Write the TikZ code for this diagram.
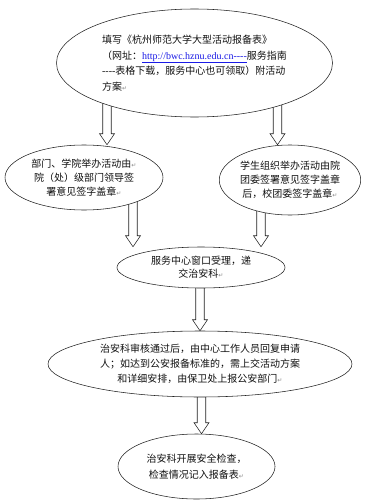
\documentclass[tikz,border=0pt]{standalone}
\usepackage{fontspec}
\newfontfamily\cjk{Noto Sans CJK SC}
\newfontfamily\latin{Liberation Serif}
\newfontfamily\markfont{DejaVu Sans}
\usetikzlibrary{
  shapes.geometric,
  calc,
  backgrounds,
}
\definecolor{ink}{HTML}{111111}
\definecolor{outline}{HTML}{222222}
\definecolor{link}{HTML}{1A1AE6}
\definecolor{retgray}{HTML}{8A8A8A}
\newcommand{\retmark}{{\color{retgray}\markfont\fontsize{6}{6}\selectfont ↵}}
\tikzset{
  every node/.style={
    font=\cjk\fontsize{10}{14}\selectfont,
    text=ink,
    align=center,
    inner sep=0pt,
  },
  bubble/.style={
    ellipse,
    draw=outline, line width=0.55pt,
    fill=white,
  },
  hollow/.style={
    draw=outline, fill=white, line width=0.55pt,
    to path={
      let \p1=(\tikztostart), \p2=(\tikztotarget) in
      (\x1-4.25pt,\y1) -- (\x1-4.25pt,\y2+11pt) -- (\x1-7.5pt,\y2+11pt)
      -- (\x1,\y2) -- (\x1+7.5pt,\y2+11pt) -- (\x1+4.25pt,\y2+11pt)
      -- (\x1+4.25pt,\y1) -- cycle
    },
  },
}

\begin{document}
\begin{tikzpicture}[x=1pt, y=-1pt]

% ============================================
% Page of 386 x 500 (pt), y running down from the top edge
% ============================================
\useasboundingbox (0,0) rectangle (386,500);

% ----- Row 1: application form -----
\node[bubble, minimum width=276pt, minimum height=108pt, align=left,
      font=\cjk\fontsize{10}{15.5}\selectfont] (form) at (194.5,63) {%
  填写《杭州师范大学大型活动报备表》\\
  （网址：{\color{link}\latin\underline{http://bwc.hznu.edu.cn----}}服务指南\\
  {\latin ----}表格下载，服务中心也可领取）附活动\\
  方案\retmark};

% ----- Row 2: two signing routes -----
\node[bubble, minimum width=158pt, minimum height=65pt] (deptSign) at (84,177.5) {%
  部门、学院举办活动由\retmark\\
  院（处）级部门领导签\\
  署意见签字盖章\retmark};
\node[bubble, minimum width=136pt, minimum height=70pt] (orgSign) at (290,180) {%
  学生组织举办活动由院\\
  团委签署意见签字盖章\\
  后，校团委签字盖章\retmark};

% ----- Row 3..5: service centre, security office -----
\node[bubble, minimum width=168pt, minimum height=41pt,
      font=\cjk\fontsize{10}{13}\selectfont] (window) at (201,267.5) {%
  服务中心窗口受理，递\\
  交治安科\retmark};
\node[bubble, minimum width=304pt, minimum height=66pt,
      font=\cjk\fontsize{10}{15}\selectfont] (review) at (200,364) {%
  治安科审核通过后，由中心工作人员回复申请\\
  人；如达到公安报备标准的，需上交活动方案\\
  和详细安排，由保卫处上报公安部门\retmark};
\node[bubble, minimum width=157pt, minimum height=65pt,
      font=\cjk\fontsize{10}{16}\selectfont] (check) at (196.5,466.5) {%
  治安科开展安全检查，\\
  检查情况记入报备表\retmark};

% ============================================
% Hollow arrows, tails hidden behind the ellipses
% ============================================
\coordinate (fromFormL)  at (107,63);
\coordinate (fromFormR)  at (277.5,63);
\coordinate (fromDept)   at (133,177.5);
\coordinate (fromOrg)    at (261,180);
\coordinate (fromWindow) at (200,267.5);
\coordinate (fromReview) at (201.5,364);

\begin{scope}[on background layer]
  \draw[hollow] (fromFormL)  to (fromFormL |- deptSign.north);
  \draw[hollow] (fromFormR)  to (fromFormR |- orgSign.north);
  \draw[hollow] (fromDept)   to (fromDept |- window.north);
  \draw[hollow] (fromOrg)    to (fromOrg |- window.north);
  \draw[hollow] (fromWindow) to (fromWindow |- review.north);
  \draw[hollow] (fromReview) to (fromReview |- check.north);
\end{scope}

\end{tikzpicture}
\end{document}
